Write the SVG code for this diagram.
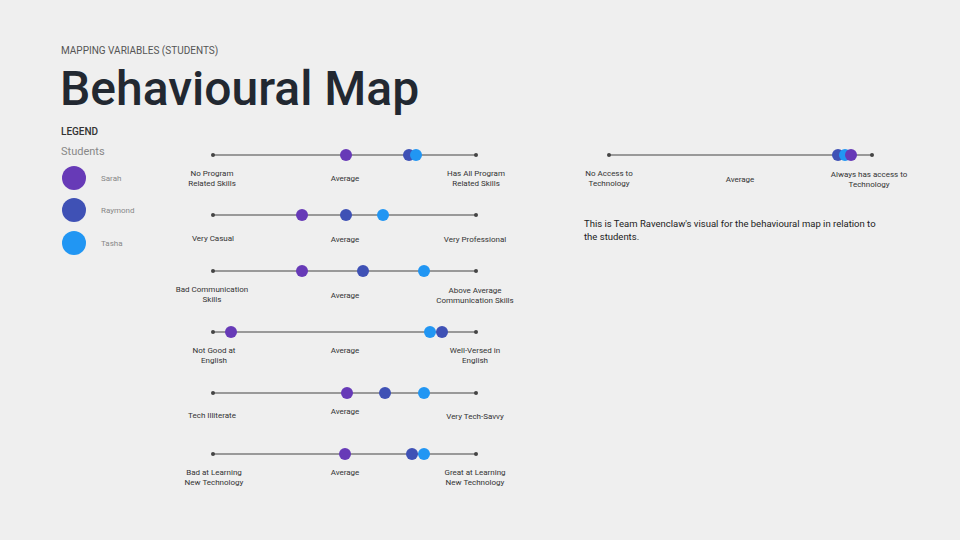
<svg xmlns="http://www.w3.org/2000/svg" width="960" height="540" viewBox="0 0 960 540">
<style>
.l{stroke:#444;stroke-width:1.2}
.e{fill:#444}
.t{font-family:Roboto,"Noto Sans",sans-serif;font-size:8px;fill:#333;text-anchor:middle}
.s{fill:#673ab7}.r{fill:#3f51b5}.a{fill:#2196f3}
.lg{font-family:Roboto,sans-serif;font-size:8px;fill:#888}
</style>
<rect width="960" height="540" fill="#efefef"/>
<text x="61" y="54" font-family="Roboto,sans-serif" font-size="10" fill="#555">MAPPING VARIABLES (STUDENTS)</text>
<text x="60" y="105" font-family="Roboto,sans-serif" font-size="48" font-weight="500" fill="#222831">Behavioural Map</text>
<g id="legend">
<text x="61" y="135" font-family="Roboto,sans-serif" font-size="10" font-weight="500" fill="#333">LEGEND</text>
<text x="61" y="155" font-family="Roboto,sans-serif" font-size="11" fill="#888">Students</text>
<circle cx="74" cy="178" r="12" class="s"/><text x="101" y="181" class="lg">Sarah</text>
<circle cx="74" cy="210" r="12" class="r"/><text x="101" y="213" class="lg">Raymond</text>
<circle cx="74" cy="243" r="12" class="a"/><text x="101" y="246" class="lg">Tasha</text>
</g>
<g id="connectors">
<line x1="213" y1="155" x2="476" y2="155" class="l"/>
<line x1="213" y1="215" x2="476" y2="215" class="l"/>
<line x1="213" y1="271" x2="476" y2="271" class="l"/>
<line x1="213" y1="332" x2="476" y2="332" class="l"/>
<line x1="213" y1="393" x2="476" y2="393" class="l"/>
<line x1="213" y1="454" x2="476" y2="454" class="l"/>
<line x1="609" y1="155" x2="872" y2="155" class="l"/>
</g>
<g id="row1">
<circle cx="213" cy="155" r="2" class="e"/><circle cx="476" cy="155" r="2" class="e"/>
<circle cx="346" cy="155" r="6" class="s"/><circle cx="409" cy="155" r="6" class="r"/><circle cx="416" cy="155" r="6" class="a"/>
<text x="212" y="176" class="t">No Program</text><text x="212" y="186" class="t">Related Skills</text>
<text x="345" y="181" class="t">Average</text>
<text x="476" y="176" class="t">Has All Program</text><text x="476" y="186" class="t">Related Skills</text>
</g>
<g id="row2">
<circle cx="213" cy="215" r="2" class="e"/><circle cx="476" cy="215" r="2" class="e"/>
<circle cx="302" cy="215" r="6" class="s"/><circle cx="346" cy="215" r="6" class="r"/><circle cx="383" cy="215" r="6" class="a"/>
<text x="213" y="241" class="t">Very Casual</text>
<text x="345" y="242" class="t">Average</text>
<text x="475" y="242" class="t">Very Professional</text>
</g>
<g id="row3">
<circle cx="213" cy="271" r="2" class="e"/><circle cx="476" cy="271" r="2" class="e"/>
<circle cx="302" cy="271" r="6" class="s"/><circle cx="363" cy="271" r="6" class="r"/><circle cx="424" cy="271" r="6" class="a"/>
<text x="212" y="292" class="t">Bad Communication</text><text x="212" y="302" class="t">Skills</text>
<text x="345" y="298" class="t">Average</text>
<text x="475" y="293" class="t">Above Average</text><text x="475" y="303" class="t">Communication Skills</text>
</g>
<g id="row4">
<circle cx="213" cy="332" r="2" class="e"/><circle cx="476" cy="332" r="2" class="e"/>
<circle cx="231" cy="332" r="6" class="s"/><circle cx="430" cy="332" r="6" class="a"/><circle cx="442" cy="332" r="6" class="r"/>
<text x="214" y="353" class="t">Not Good at</text><text x="214" y="363" class="t">English</text>
<text x="345" y="353" class="t">Average</text>
<text x="475" y="353" class="t">Well-Versed in</text><text x="475" y="363" class="t">English</text>
</g>
<g id="row5">
<circle cx="213" cy="393" r="2" class="e"/><circle cx="476" cy="393" r="2" class="e"/>
<circle cx="347" cy="393" r="6" class="s"/><circle cx="385" cy="393" r="6" class="r"/><circle cx="424" cy="393" r="6" class="a"/>
<text x="212" y="418" class="t">Tech Illiterate</text>
<text x="345" y="414" class="t">Average</text>
<text x="475" y="419" class="t">Very Tech-Savvy</text>
</g>
<g id="row6">
<circle cx="213" cy="454" r="2" class="e"/><circle cx="476" cy="454" r="2" class="e"/>
<circle cx="345" cy="454" r="6" class="s"/><circle cx="412" cy="454" r="6" class="r"/><circle cx="424" cy="454" r="6" class="a"/>
<text x="214" y="475" class="t">Bad at Learning</text><text x="214" y="485" class="t">New Technology</text>
<text x="345" y="475" class="t">Average</text>
<text x="475" y="475" class="t">Great at Learning</text><text x="475" y="485" class="t">New Technology</text>
</g>
<g id="row7">
<circle cx="609" cy="155" r="2" class="e"/><circle cx="872" cy="155" r="2" class="e"/>
<circle cx="838" cy="155" r="6" class="r"/><circle cx="845" cy="155" r="6" class="a"/><circle cx="851" cy="155" r="6" class="s"/>
<text x="609" y="176" class="t">No Access to</text><text x="609" y="186" class="t">Technology</text>
<text x="740" y="182" class="t">Average</text>
<text x="869" y="177" class="t">Always has access to</text><text x="869" y="187" class="t">Technology</text>
</g>
<text font-family="Roboto,sans-serif" font-size="9.5" fill="#222"><tspan x="584" y="227">This is Team Ravenclaw's visual for the behavioural map in relation to</tspan><tspan x="584" y="240">the students.</tspan></text>
</svg>
